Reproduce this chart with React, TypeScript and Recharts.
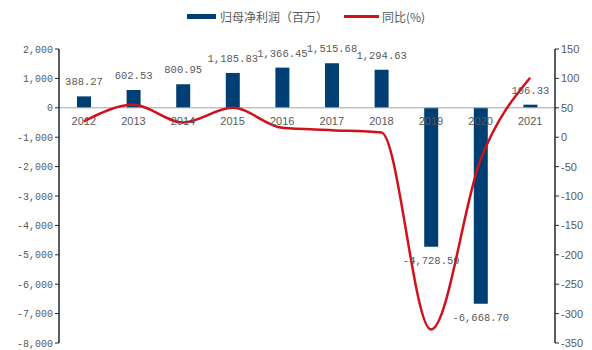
import {
  ComposedChart,
  Bar,
  Line,
  XAxis,
  YAxis,
  Legend,
  LabelList,
  ReferenceLine,
} from 'recharts'

const years = ['2012', '2013', '2014', '2015', '2016', '2017', '2018', '2019', '2020', '2021']
const netProfit = [388.27, 602.53, 800.95, 1185.83, 1366.45, 1515.68, 1294.63, -4728.59, -6668.7, 106.33]
const yoyPct = [27, 55, 25, 50, 16, 12, 8, -327, -38, 101]
const leftTicks = [2000, 1000, 0, -1000, -2000, -3000, -4000, -5000, -6000, -7000, -8000]
const rightTicks = [150, 100, 50, 0, -50, -100, -150, -200, -250, -300, -350]

const BLUE = '#003f74'
const RED = '#d0111c'
const GREY = '#595959'
const MONO = '"Liberation Mono", "DejaVu Sans Mono", monospace'

const chartData = years.map((year, i) => ({
  year,
  profit: netProfit[i],
  yoy: yoyPct[i],
  zero: 0,
}))

const fmt = (v: number) =>
  v.toLocaleString('en-US', { minimumFractionDigits: 0, maximumFractionDigits: 2 })

const fmtLabel = (v: number) =>
  v.toLocaleString('en-US', { minimumFractionDigits: 2, maximumFractionDigits: 2 })

function BarValue(props: any) {
  const { x, y, width, height, value } = props
  const top = Math.min(y, y + height)
  const bottom = Math.max(y, y + height)
  const cx = x + width / 2
  const ty = value < 0 ? bottom + 17 : top - 11
  return (
    <text x={cx} y={ty} textAnchor="middle" fill={GREY} fontSize={10.5} fontFamily={MONO}>
      {fmtLabel(value)}
    </text>
  )
}

function YearLabel(props: any) {
  const { x, y, value } = props
  return (
    <text x={x} y={y + 17} textAnchor="middle" fill={GREY} fontSize={11} fontFamily="Arial, 'Liberation Sans', sans-serif">
      {value}
    </text>
  )
}

function LegendBox() {
  return (
    <div
      style={{
        display: 'flex',
        justifyContent: 'center',
        alignItems: 'center',
        fontFamily: '"Noto Sans CJK SC", sans-serif',
        fontSize: 12,
        color: GREY,
        paddingLeft: 20,
      }}
    >
      <span style={{ display: 'inline-block', width: 29, height: 5, background: BLUE, marginRight: 4 }} />
      <span style={{ marginRight: 16 }}>归母净利润（百万）</span>
      <span style={{ display: 'inline-block', width: 35, height: 3, background: RED, marginRight: 3 }} />
      <span>同比(%)</span>
    </div>
  )
}

export default function App() {
  return (
    <div style={{ position: 'absolute', left: 0, top: 0, width: 592, height: 350, background: '#fff' }}>
      <ComposedChart
        width={592}
        height={350}
        data={chartData}
        margin={{ top: 32, right: 0, bottom: 7, left: 0 }}
        barCategoryGap={0}
      >
        <XAxis dataKey="year" hide />
        <YAxis
          yAxisId="left"
          domain={[-8000, 2000]}
          ticks={leftTicks}
          interval={0}
          width={59}
          tickFormatter={fmt}
          axisLine={{ stroke: '#262626', strokeWidth: 1.5 }}
          tickLine={{ stroke: '#262626' }}
          tickSize={4}
          tick={{ fill: GREY, fontSize: 10, fontFamily: MONO }}
        />
        <YAxis
          yAxisId="right"
          orientation="right"
          domain={[-350, 150]}
          ticks={rightTicks}
          interval={0}
          width={37}
          axisLine={{ stroke: '#262626', strokeWidth: 1.5 }}
          tickLine={{ stroke: '#262626' }}
          tickSize={4}
          tick={{ fill: GREY, fontSize: 11, fontFamily: "Arial, 'Liberation Sans', sans-serif" }}
        />
        <Legend
          verticalAlign="top"
          wrapperStyle={{ position: 'absolute', top: 8, left: 0, width: 592 }}
          content={() => <LegendBox />}
        />
        <ReferenceLine yAxisId="left" y={0} stroke="#a6a6a6" strokeWidth={1} />
        <Bar yAxisId="left" dataKey="profit" fill={BLUE} barSize={14} isAnimationActive={false}>
          <LabelList dataKey="profit" content={BarValue} />
        </Bar>
        <Line
          yAxisId="left"
          dataKey="zero"
          stroke="none"
          dot={false}
          activeDot={false}
          legendType="none"
          isAnimationActive={false}
        >
          <LabelList dataKey="year" content={YearLabel} />
        </Line>
        <Line
          yAxisId="right"
          type="monotone"
          dataKey="yoy"
          stroke={RED}
          strokeWidth={2.5}
          dot={false}
          activeDot={false}
          isAnimationActive={false}
        />
      </ComposedChart>
    </div>
  )
}
